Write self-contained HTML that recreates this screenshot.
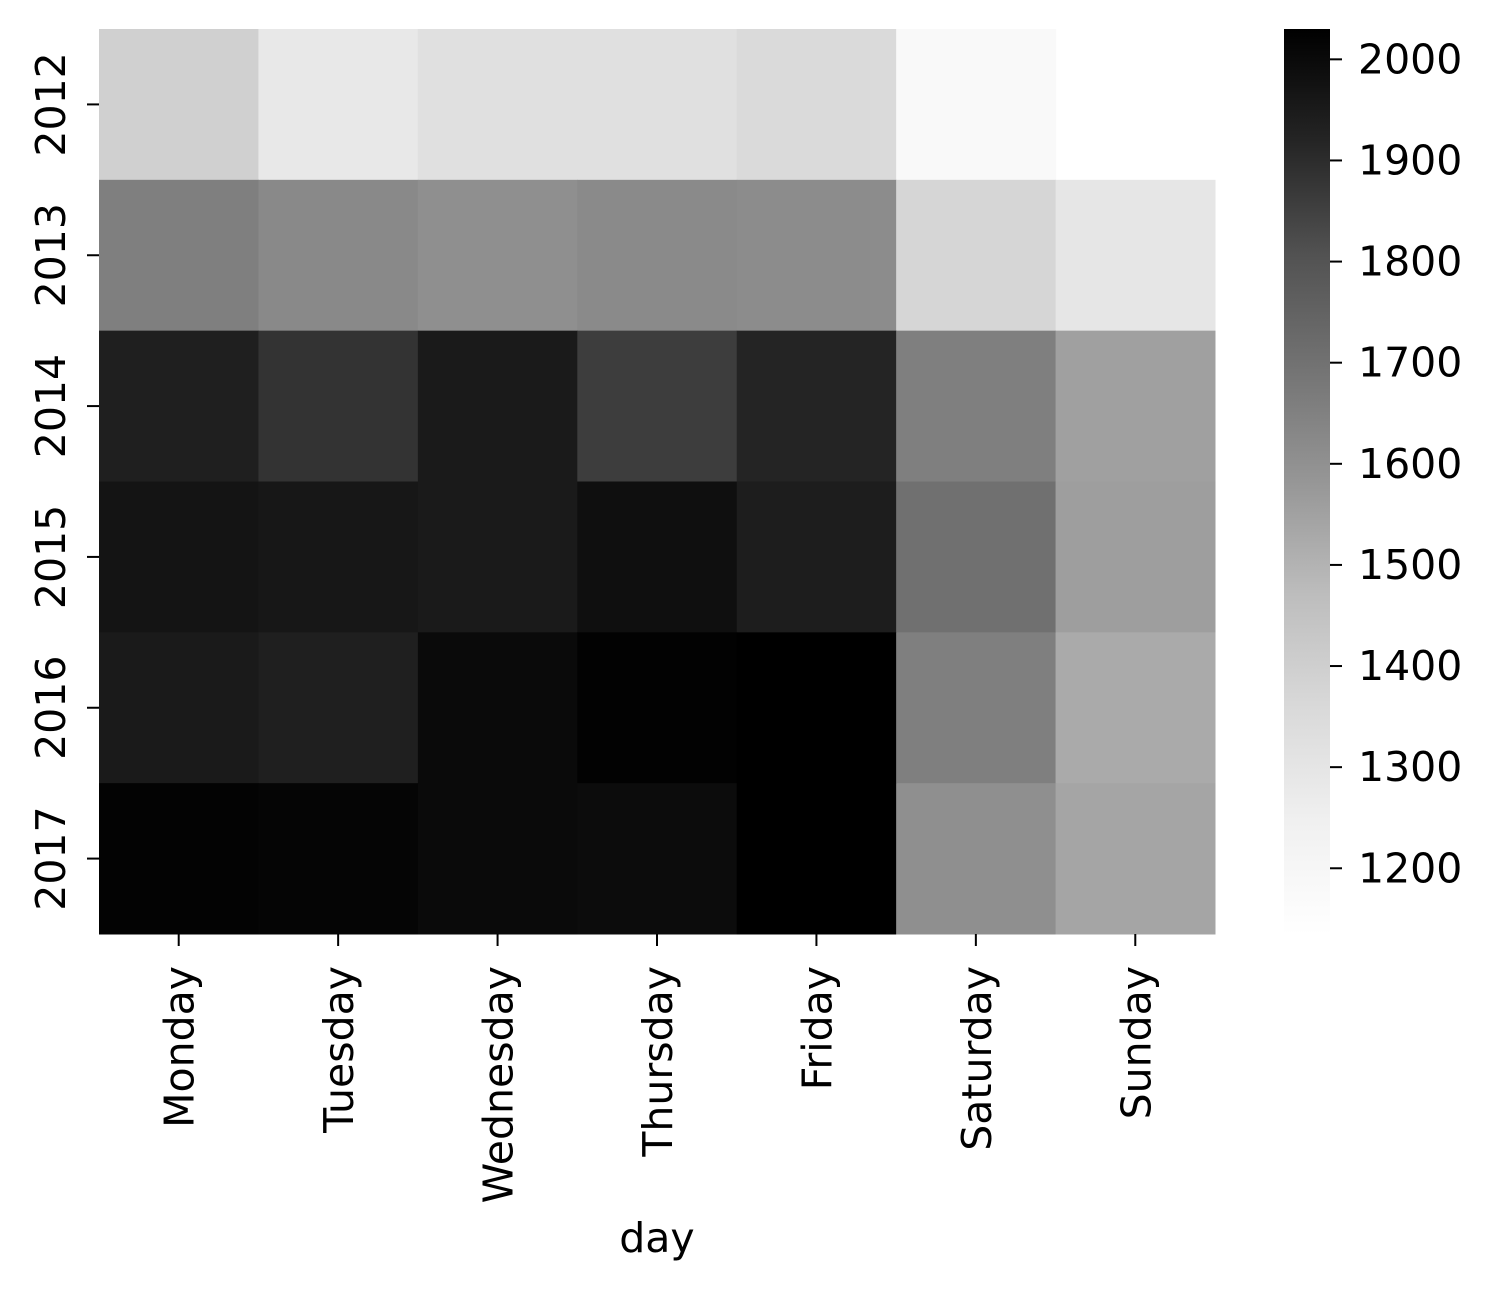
<!DOCTYPE html>
<html><head><meta charset="utf-8"><style>
html,body{margin:0;padding:0;background:#fff;}
svg text{font-family:"DejaVu Sans","Liberation Sans",sans-serif;fill:#000;}
</style></head><body>
<svg id="chart" width="1495" height="1292" xmlns="http://www.w3.org/2000/svg">
<defs>
<linearGradient id="greys" x1="0" y1="1" x2="0" y2="0">
<stop offset="0" stop-color="#ffffff"/><stop offset="0.125" stop-color="#f0f0f0"/>
<stop offset="0.25" stop-color="#d9d9d9"/><stop offset="0.375" stop-color="#bdbdbd"/>
<stop offset="0.5" stop-color="#969696"/><stop offset="0.625" stop-color="#737373"/>
<stop offset="0.75" stop-color="#525252"/><stop offset="0.875" stop-color="#252525"/>
<stop offset="1" stop-color="#000000"/>
</linearGradient>
</defs>
<g id="cells"></g>
<g id="axes"></g>
<rect x="1284" y="29" width="46" height="905" fill="url(#greys)"/>
<text x="657" y="1252" font-size="41" text-anchor="middle">day</text>
</svg>
<script>
const days = ["Monday","Tuesday","Wednesday","Thursday","Friday","Saturday","Sunday"];
const years = ["2012","2013","2014","2015","2016","2017"];
const v2012 = [1395,1286,1325,1325,1354,1180,null];
const v2013 = [1656,1624,1605,1621,1615,1370,1295];
const v2014 = [1936,1883,1951,1858,1921,1656,1554];
const v2015 = [1969,1960,1951,1984,1942,1704,1559];
const v2016 = [1951,1936,2000,2024,2030,1656,1525];
const v2017 = [2021,2015,2000,1993,2030,1605,1540];
const cbTicks = [1200,1300,1400,1500,1600,1700,1800,1900,2000];
const vmin = 1135, vmax = 2030;
const rows = [v2012,v2013,v2014,v2015,v2016,v2017];
const NS="http://www.w3.org/2000/svg";
const X0=99,X1=1215,Y0=29,Y1=934;
const cw=(X1-X0)/days.length, ch=(Y1-Y0)/years.length;
const stops=[[0,255],[0.125,240],[0.25,217],[0.375,189],[0.5,150],[0.625,115],[0.75,82],[0.875,37],[1,0]];
function grey(v){let t=Math.max(0,Math.min(1,(v-vmin)/(vmax-vmin)));
 for(let i=1;i<stops.length;i++){if(t<=stops[i][0]){const a=stops[i-1],b=stops[i];const g=Math.round(a[1]+(b[1]-a[1])*(t-a[0])/(b[0]-a[0]));return `rgb(${g},${g},${g})`;}}return "rgb(0,0,0)";}
function mk(tag,attrs,parent){const e=document.createElementNS(NS,tag);for(const k in attrs)e.setAttribute(k,attrs[k]);parent.appendChild(e);return e;}
const cells=document.getElementById('cells'), axes=document.getElementById('axes'), svg=document.getElementById('chart');
rows.forEach((r,i)=>r.forEach((v,j)=>{if(v==null)return;
 const e=mk('rect',{x:X0+j*cw,y:Y0+i*ch,width:cw+0.5,height:ch+0.5,fill:grey(v)},cells);
 
 }));
years.forEach((y,i)=>{const cy=Y0+(i+0.5)*ch;
 mk('line',{x1:87,x2:99,y1:cy,y2:cy,stroke:'#000','stroke-width':2},axes);
 const t=mk('text',{x:0,y:0,'font-size':41,'text-anchor':'middle',transform:`translate(65,${cy}) rotate(-90)`},axes);
 t.textContent=y;
 
 });
days.forEach((d,j)=>{const cx=X0+(j+0.5)*cw;
 mk('line',{x1:cx,x2:cx,y1:934,y2:946,stroke:'#000','stroke-width':2},axes);
 const t=mk('text',{x:0,y:0,'font-size':41,'text-anchor':'end',transform:`translate(${cx+15},966) rotate(-90)`},axes);
 t.textContent=d;
 
 });
cbTicks.forEach(v=>{const y=Y1-(v-vmin)/(vmax-vmin)*(Y1-Y0);
 mk('line',{x1:1330,x2:1342,y1:y,y2:y,stroke:'#000','stroke-width':2},svg);
 const t=mk('text',{x:1358,y:y+14,'font-size':41},svg);
 t.textContent=v;
 
 });
</script>
</body></html>
